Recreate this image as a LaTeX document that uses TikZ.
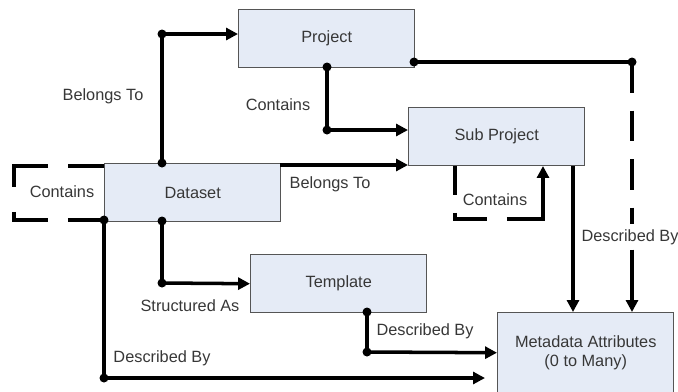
\documentclass[tikz,border=0pt]{standalone}
\usepackage{fontspec}
\setmainfont{Liberation Sans}
\usetikzlibrary{positioning, calc, arrows.meta}

\definecolor{boxfill}{RGB}{229,235,246}
\definecolor{boxline}{RGB}{85,85,85}
\definecolor{txtgray}{RGB}{55,55,55}

\tikzset{
  entity/.style={draw=boxline, line width=1pt, fill=boxfill, anchor=north west,
    minimum width=4.4cm, minimum height=1.45cm, text=txtgray, align=center},
  link/.style={line width=2.5pt},
  arr/.style={link, -{Triangle[length=8.5pt,width=8.5pt]}},
  lbl/.style={text=txtgray}
}

\begin{document}
\begin{tikzpicture}[x=0.025cm, y=-0.025cm, font=\fontsize{11.6}{14}\selectfont]
        \clip (0,0) rectangle (678,391);

        % the boxes
        \node[entity] (project)  at (238,9)   {Project};
        \node[entity] (subproj)  at (408,107) {Sub Project};
        \node[entity] (dataset)  at (104,163) {Dataset};
        \node[entity] (template) at (250,254) {Template};
        \node[entity, minimum height=2cm] (meta) at (497,312) {Metadata Attributes\\(0 to Many)};

        % bend points
        \coordinate (bt1) at (162,163);
        \coordinate (bt2) at (162,34);
        \coordinate (ct1) at (327,67);
        \coordinate (ct2) at (327,130);
        \coordinate (pd1) at (414,62);
        \coordinate (pd2) at (632,62);
        \coordinate (sb)  at (280,165);
        \coordinate (cl1) at (455,166);
        \coordinate (cl2) at (543,166);
        \coordinate (sd)  at (573,166);
        \coordinate (dl)  at (104,166);
        \coordinate (dd1) at (104,220);
        \coordinate (dd2) at (104,378);
        \coordinate (sa1) at (162,221);
        \coordinate (sa2) at (162,283);
        \coordinate (td1) at (367,312);
        \coordinate (td2) at (367,352);

        % labels
        \node[lbl] (lbt1) at (103,96)  {Belongs To};
        \node[lbl] (lct1) at (278,105) {Contains};
        \node[lbl] (lbt2) at (330,184) {Belongs To};
        \node[lbl] (lct2) at (495,200) {Contains};
        \node[lbl] (ldb1) at (630,237) {Described By};
        \node[lbl] (lct3) at (62,192)  {Contains};
        \node[lbl] (lsa)  at (190,306) {Structured As};
        \node[lbl] (ldb2) at (162,358) {Described By};
        \node[lbl] (ldb3) at (425,331) {Described By};

        % dataset belongs to project
        \draw[arr] (bt1) -- (bt2) -- (bt2 -| project.west);
        % project contains sub project
        \draw[arr] (ct1) -- (ct2) -- (ct2 -| subproj.west);
        % project described by
        \draw[link] (pd1) -- (pd2);
        \draw[link, dash pattern=on 22pt off 12.5pt] (pd2) -- (pd2 |- ldb1.north);
        \draw[arr] (pd2 |- ldb1.south) -- (pd2 |- meta.north);
        % dataset belongs to sub project
        \draw[arr] (sb) -- (sb -| subproj.west);
        % sub project contains
        \draw[arr, dash pattern=on 20.6pt off 12.8pt on 27pt off 14.2pt on 80pt off 1pt]
            (cl1) -- ++(0,53) -| (cl2);
        % sub project described by
        \draw[arr] (sd) -- (sd |- meta.north);
        % dataset contains
        \draw[link, dash pattern=on 25.6pt off 14.2pt on 39.1pt off 17.8pt on 29.9pt off 14.2pt on 40pt off 1pt]
            (dl) -- ++(-90,0) |- (dd1);
        % dataset described by
        \draw[arr] (dd1) -- (dd2) -- ($(dd2 -| meta.west)+(-12,0)$);
        % structured as
        \draw[arr] (sa1) -- (sa2) -- (template.west);
        % template described by
        \draw[arr] (td1) -- (td2) -- (meta.west);

        % joints
        \foreach \p in {bt1,bt2,ct1,ct2,pd1,pd2,dd1,dd2,sa1,sa2,td1,td2}
            \fill (\p) circle (3.2pt);
\end{tikzpicture}
\end{document}
